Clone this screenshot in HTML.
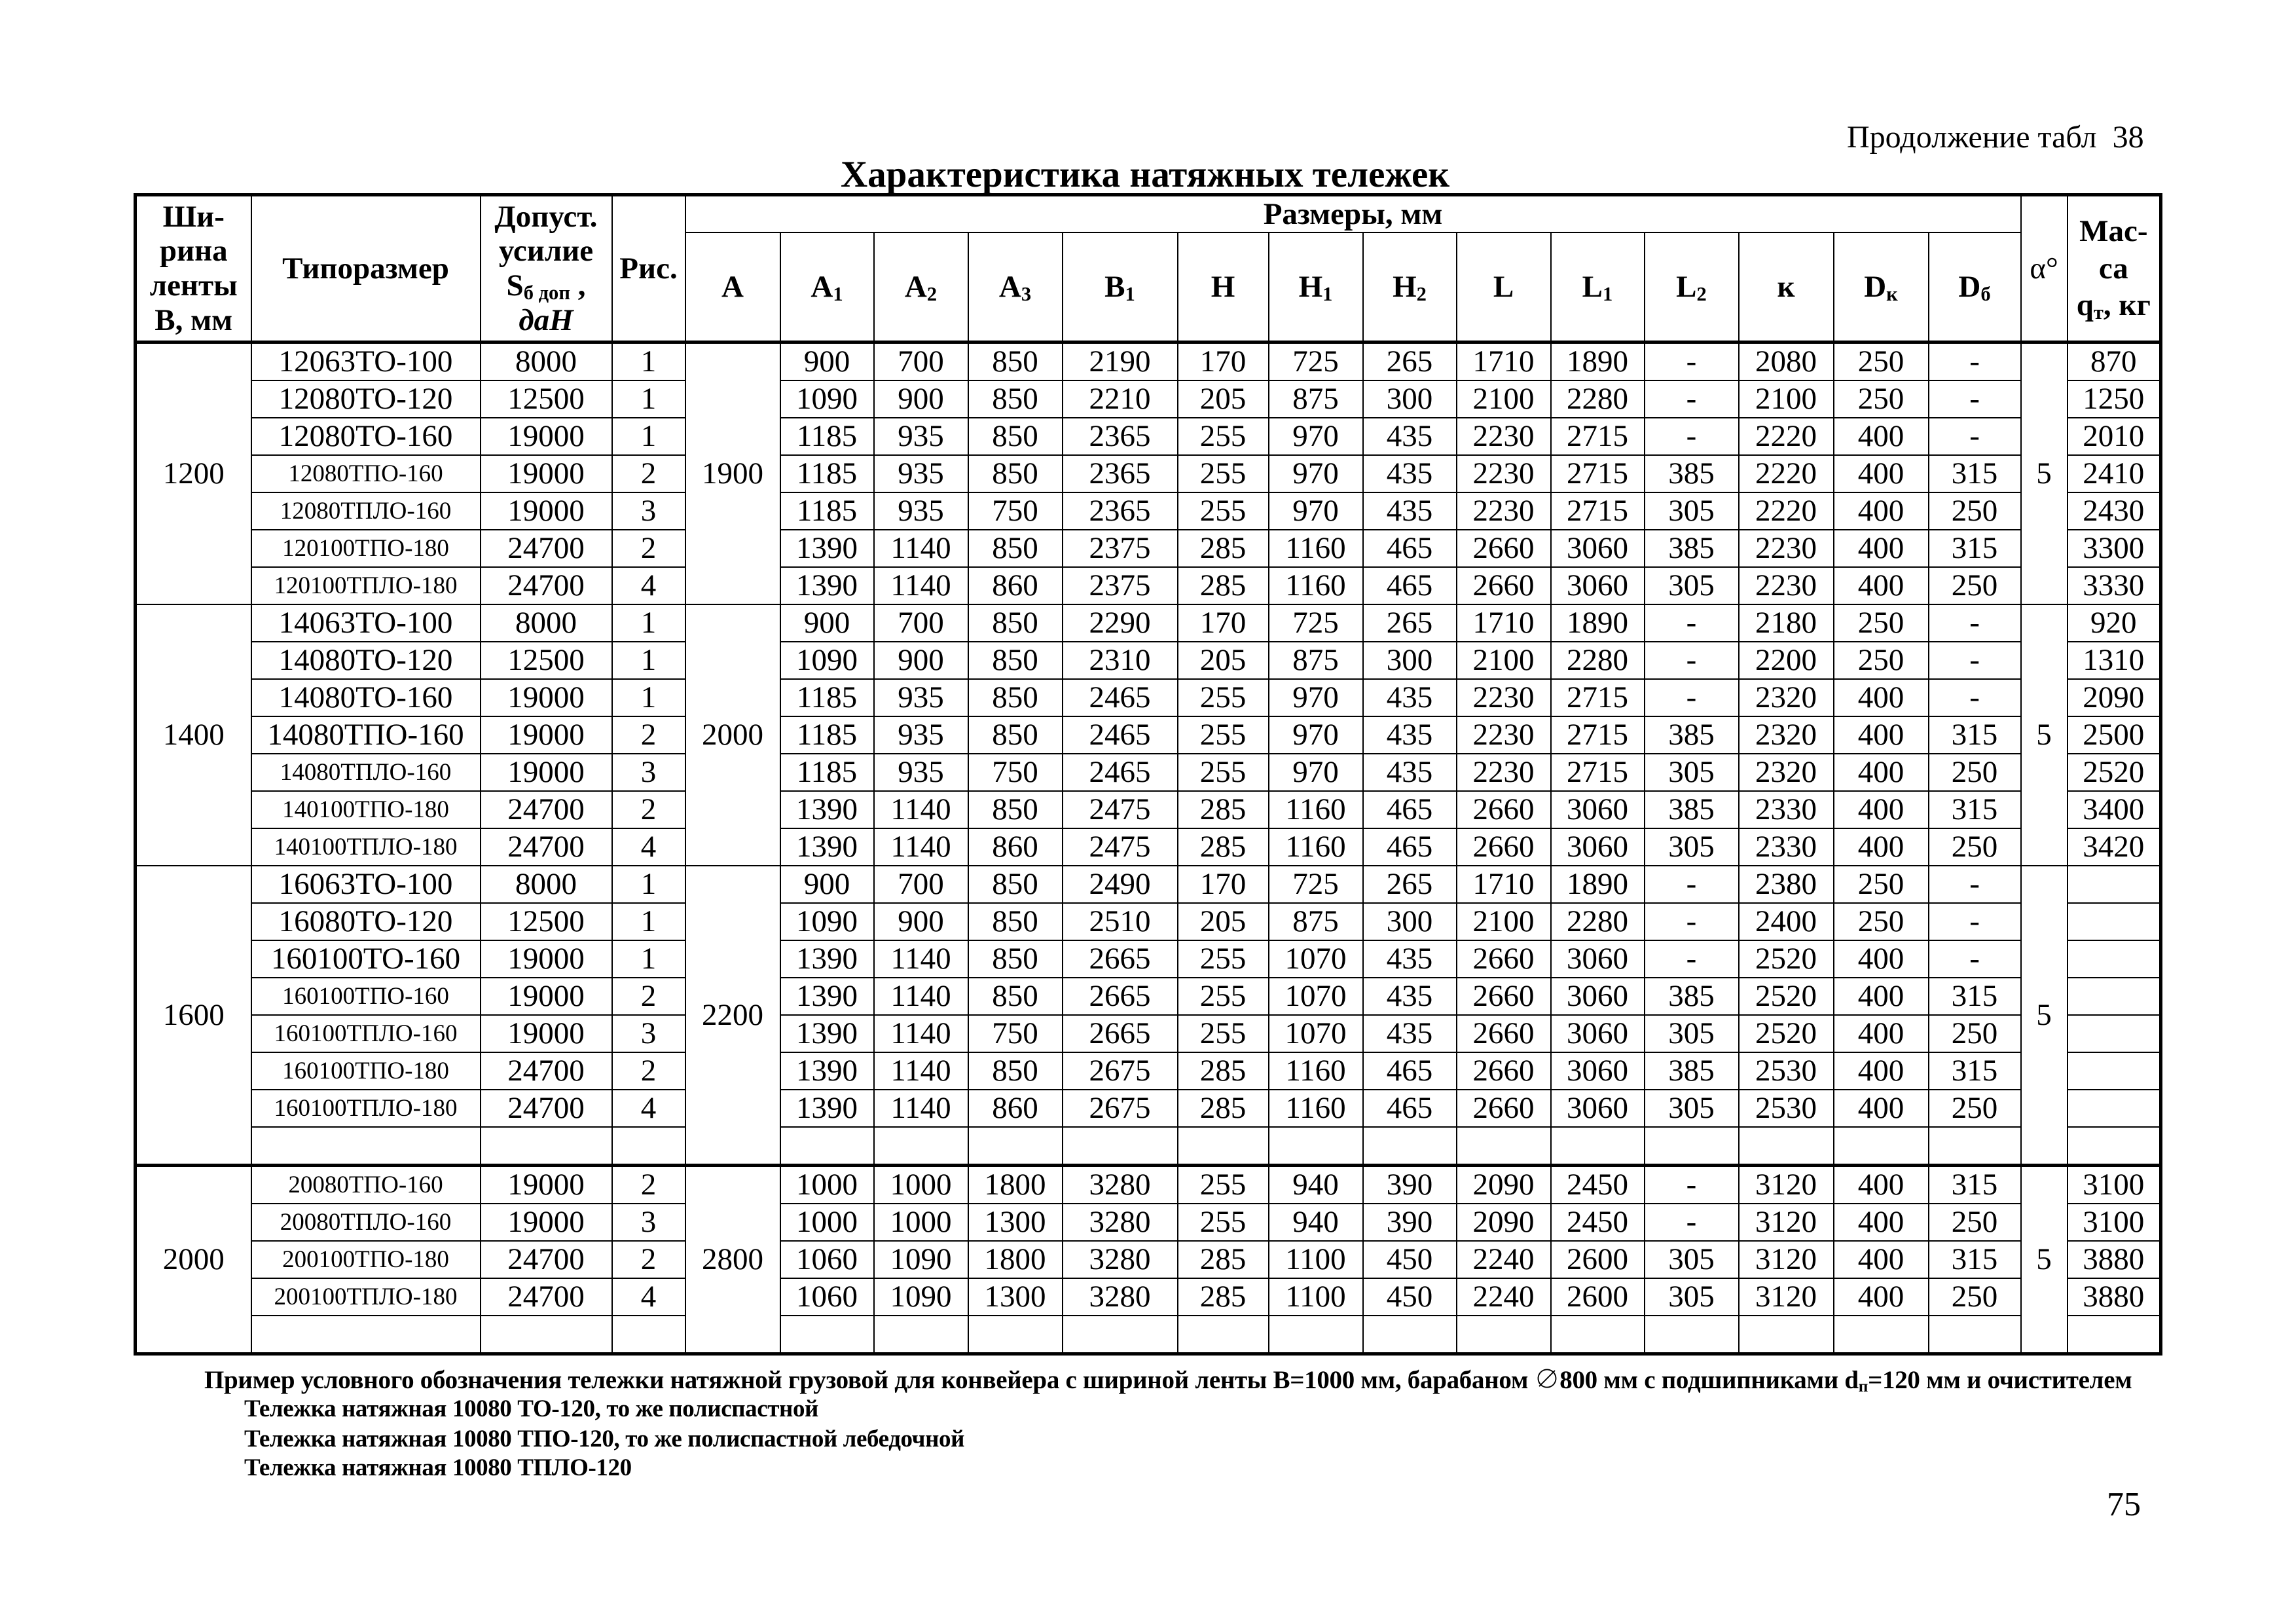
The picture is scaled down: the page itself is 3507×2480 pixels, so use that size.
<!DOCTYPE html>
<html><head><meta charset="utf-8"><style>
html,body{margin:0;padding:0;background:#fff;}
body{width:3507px;height:2480px;position:relative;overflow:hidden;font-family:"Liberation Serif","Noto Serif CJK SC",serif;color:#000;}
.abs{position:absolute;white-space:nowrap;}
table{position:absolute;left:204px;top:295px;border-collapse:collapse;table-layout:fixed;width:3094px;border:5px solid #000;}
td{border:2.5px solid #000;padding:0;text-align:center;vertical-align:middle;font-size:47px;line-height:1;overflow:hidden;white-space:nowrap;}
tr.d td{height:55px;}
tr.h1 td{height:54px;}
tr.h2 td{height:164px;}
.b{font-weight:bold;}
.sm{font-size:37px;}
.hb{border-bottom:5px solid #000;}
sub{font-size:0.65em;vertical-align:-0.2em;line-height:0;}
</style></head><body>
<div class="abs" style="left:2821px;top:182px;font-size:48px;">Продолжение табл&nbsp; 38</div>
<div class="abs b" style="left:1284px;top:234px;font-size:57px;">Характеристика натяжных тележек</div>
<table>
<colgroup>
<col style="width:177px"><col style="width:350px"><col style="width:201px"><col style="width:112px">
<col style="width:145px"><col style="width:143px"><col style="width:144px"><col style="width:144px"><col style="width:176px">
<col style="width:139px"><col style="width:144px"><col style="width:143px"><col style="width:144px"><col style="width:143px">
<col style="width:144px"><col style="width:145px"><col style="width:145px"><col style="width:141px">
<col style="width:71px"><col style="width:143px">
</colgroup>
<tr class="h1">
<td rowspan="2" class="b hb" style="line-height:1.12;">Ши-<br>рина<br>ленты<br>В, мм</td>
<td rowspan="2" class="b hb">Типоразмер</td>
<td rowspan="2" class="b hb" style="line-height:1.12;">Допуст.<br>усилие<br>S<sub>б доп</sub> ,<br><i>даН</i></td>
<td rowspan="2" class="b hb">Рис.</td>
<td colspan="14" class="b">Размеры, мм</td>
<td rowspan="2" class="hb">α°</td>
<td rowspan="2" class="b hb" style="line-height:1.2;">Мас-<br>са<br>q<sub>т</sub>, кг</td>
</tr>
<tr class="h2 b">
<td class="b hb">A</td><td class="b hb">A<sub>1</sub></td><td class="b hb">A<sub>2</sub></td><td class="b hb">A<sub>3</sub></td><td class="b hb">B<sub>1</sub></td><td class="b hb">H</td><td class="b hb">H<sub>1</sub></td><td class="b hb">H<sub>2</sub></td><td class="b hb">L</td><td class="b hb">L<sub>1</sub></td><td class="b hb">L<sub>2</sub></td><td class="b hb">к</td><td class="b hb">D<sub>к</sub></td><td class="b hb">D<sub>б</sub></td>
</tr>
<!-- 1200 -->
<tr class="d"><td rowspan="7">1200</td><td>12063ТО-100</td><td>8000</td><td>1</td><td rowspan="7">1900</td><td>900</td><td>700</td><td>850</td><td>2190</td><td>170</td><td>725</td><td>265</td><td>1710</td><td>1890</td><td>-</td><td>2080</td><td>250</td><td>-</td><td rowspan="7">5</td><td>870</td></tr>
<tr class="d"><td>12080ТО-120</td><td>12500</td><td>1</td><td>1090</td><td>900</td><td>850</td><td>2210</td><td>205</td><td>875</td><td>300</td><td>2100</td><td>2280</td><td>-</td><td>2100</td><td>250</td><td>-</td><td>1250</td></tr>
<tr class="d"><td>12080ТО-160</td><td>19000</td><td>1</td><td>1185</td><td>935</td><td>850</td><td>2365</td><td>255</td><td>970</td><td>435</td><td>2230</td><td>2715</td><td>-</td><td>2220</td><td>400</td><td>-</td><td>2010</td></tr>
<tr class="d"><td class="sm">12080ТПО-160</td><td>19000</td><td>2</td><td>1185</td><td>935</td><td>850</td><td>2365</td><td>255</td><td>970</td><td>435</td><td>2230</td><td>2715</td><td>385</td><td>2220</td><td>400</td><td>315</td><td>2410</td></tr>
<tr class="d"><td class="sm">12080ТПЛО-160</td><td>19000</td><td>3</td><td>1185</td><td>935</td><td>750</td><td>2365</td><td>255</td><td>970</td><td>435</td><td>2230</td><td>2715</td><td>305</td><td>2220</td><td>400</td><td>250</td><td>2430</td></tr>
<tr class="d"><td class="sm">120100ТПО-180</td><td>24700</td><td>2</td><td>1390</td><td>1140</td><td>850</td><td>2375</td><td>285</td><td>1160</td><td>465</td><td>2660</td><td>3060</td><td>385</td><td>2230</td><td>400</td><td>315</td><td>3300</td></tr>
<tr class="d"><td class="sm">120100ТПЛО-180</td><td>24700</td><td>4</td><td>1390</td><td>1140</td><td>860</td><td>2375</td><td>285</td><td>1160</td><td>465</td><td>2660</td><td>3060</td><td>305</td><td>2230</td><td>400</td><td>250</td><td>3330</td></tr>
<!-- 1400 -->
<tr class="d"><td rowspan="7">1400</td><td>14063ТО-100</td><td>8000</td><td>1</td><td rowspan="7">2000</td><td>900</td><td>700</td><td>850</td><td>2290</td><td>170</td><td>725</td><td>265</td><td>1710</td><td>1890</td><td>-</td><td>2180</td><td>250</td><td>-</td><td rowspan="7">5</td><td>920</td></tr>
<tr class="d"><td>14080ТО-120</td><td>12500</td><td>1</td><td>1090</td><td>900</td><td>850</td><td>2310</td><td>205</td><td>875</td><td>300</td><td>2100</td><td>2280</td><td>-</td><td>2200</td><td>250</td><td>-</td><td>1310</td></tr>
<tr class="d"><td>14080ТО-160</td><td>19000</td><td>1</td><td>1185</td><td>935</td><td>850</td><td>2465</td><td>255</td><td>970</td><td>435</td><td>2230</td><td>2715</td><td>-</td><td>2320</td><td>400</td><td>-</td><td>2090</td></tr>
<tr class="d"><td>14080ТПО-160</td><td>19000</td><td>2</td><td>1185</td><td>935</td><td>850</td><td>2465</td><td>255</td><td>970</td><td>435</td><td>2230</td><td>2715</td><td>385</td><td>2320</td><td>400</td><td>315</td><td>2500</td></tr>
<tr class="d"><td class="sm">14080ТПЛО-160</td><td>19000</td><td>3</td><td>1185</td><td>935</td><td>750</td><td>2465</td><td>255</td><td>970</td><td>435</td><td>2230</td><td>2715</td><td>305</td><td>2320</td><td>400</td><td>250</td><td>2520</td></tr>
<tr class="d"><td class="sm">140100ТПО-180</td><td>24700</td><td>2</td><td>1390</td><td>1140</td><td>850</td><td>2475</td><td>285</td><td>1160</td><td>465</td><td>2660</td><td>3060</td><td>385</td><td>2330</td><td>400</td><td>315</td><td>3400</td></tr>
<tr class="d"><td class="sm">140100ТПЛО-180</td><td>24700</td><td>4</td><td>1390</td><td>1140</td><td>860</td><td>2475</td><td>285</td><td>1160</td><td>465</td><td>2660</td><td>3060</td><td>305</td><td>2330</td><td>400</td><td>250</td><td>3420</td></tr>
<!-- 1600 -->
<tr class="d"><td rowspan="8">1600</td><td>16063ТО-100</td><td>8000</td><td>1</td><td rowspan="8">2200</td><td>900</td><td>700</td><td>850</td><td>2490</td><td>170</td><td>725</td><td>265</td><td>1710</td><td>1890</td><td>-</td><td>2380</td><td>250</td><td>-</td><td rowspan="8">5</td><td></td></tr>
<tr class="d"><td>16080ТО-120</td><td>12500</td><td>1</td><td>1090</td><td>900</td><td>850</td><td>2510</td><td>205</td><td>875</td><td>300</td><td>2100</td><td>2280</td><td>-</td><td>2400</td><td>250</td><td>-</td><td></td></tr>
<tr class="d"><td>160100ТО-160</td><td>19000</td><td>1</td><td>1390</td><td>1140</td><td>850</td><td>2665</td><td>255</td><td>1070</td><td>435</td><td>2660</td><td>3060</td><td>-</td><td>2520</td><td>400</td><td>-</td><td></td></tr>
<tr class="d"><td class="sm">160100ТПО-160</td><td>19000</td><td>2</td><td>1390</td><td>1140</td><td>850</td><td>2665</td><td>255</td><td>1070</td><td>435</td><td>2660</td><td>3060</td><td>385</td><td>2520</td><td>400</td><td>315</td><td></td></tr>
<tr class="d"><td class="sm">160100ТПЛО-160</td><td>19000</td><td>3</td><td>1390</td><td>1140</td><td>750</td><td>2665</td><td>255</td><td>1070</td><td>435</td><td>2660</td><td>3060</td><td>305</td><td>2520</td><td>400</td><td>250</td><td></td></tr>
<tr class="d"><td class="sm">160100ТПО-180</td><td>24700</td><td>2</td><td>1390</td><td>1140</td><td>850</td><td>2675</td><td>285</td><td>1160</td><td>465</td><td>2660</td><td>3060</td><td>385</td><td>2530</td><td>400</td><td>315</td><td></td></tr>
<tr class="d"><td class="sm">160100ТПЛО-180</td><td>24700</td><td>4</td><td>1390</td><td>1140</td><td>860</td><td>2675</td><td>285</td><td>1160</td><td>465</td><td>2660</td><td>3060</td><td>305</td><td>2530</td><td>400</td><td>250</td><td></td></tr>
<tr class="d"><td></td><td></td><td></td><td></td><td></td><td></td><td></td><td></td><td></td><td></td><td></td><td></td><td></td><td></td><td></td><td></td><td></td></tr>
<!-- 2000 -->
<tr class="d" style="border-top:5px solid #000;"><td rowspan="5">2000</td><td class="sm">20080ТПО-160</td><td>19000</td><td>2</td><td rowspan="5">2800</td><td>1000</td><td>1000</td><td>1800</td><td>3280</td><td>255</td><td>940</td><td>390</td><td>2090</td><td>2450</td><td>-</td><td>3120</td><td>400</td><td>315</td><td rowspan="5">5</td><td>3100</td></tr>
<tr class="d"><td class="sm">20080ТПЛО-160</td><td>19000</td><td>3</td><td>1000</td><td>1000</td><td>1300</td><td>3280</td><td>255</td><td>940</td><td>390</td><td>2090</td><td>2450</td><td>-</td><td>3120</td><td>400</td><td>250</td><td>3100</td></tr>
<tr class="d"><td class="sm">200100ТПО-180</td><td>24700</td><td>2</td><td>1060</td><td>1090</td><td>1800</td><td>3280</td><td>285</td><td>1100</td><td>450</td><td>2240</td><td>2600</td><td>305</td><td>3120</td><td>400</td><td>315</td><td>3880</td></tr>
<tr class="d"><td class="sm">200100ТПЛО-180</td><td>24700</td><td>4</td><td>1060</td><td>1090</td><td>1300</td><td>3280</td><td>285</td><td>1100</td><td>450</td><td>2240</td><td>2600</td><td>305</td><td>3120</td><td>400</td><td>250</td><td>3880</td></tr>
<tr class="d"><td></td><td></td><td></td><td></td><td></td><td></td><td></td><td></td><td></td><td></td><td></td><td></td><td></td><td></td><td></td><td></td><td></td></tr>
</table>
<div class="abs b" style="left:312px;top:2076px;font-size:39px;letter-spacing:-0.3px;">Пример условного обозначения тележки натяжной грузовой для конвейера с шириной ленты В=1000 мм, барабаном ∅800 мм с подшипниками d<sub>п</sub>=120 мм и очистителем</div>
<div class="abs b" style="left:373px;top:2130px;font-size:37px;letter-spacing:-0.4px;">Тележка натяжная 10080 ТО-120, то же полиспастной</div>
<div class="abs b" style="left:373px;top:2176px;font-size:37px;letter-spacing:-0.4px;">Тележка натяжная 10080 ТПО-120, то же полиспастной лебедочной</div>
<div class="abs b" style="left:373px;top:2220px;font-size:37px;letter-spacing:-0.4px;">Тележка натяжная 10080 ТПЛО-120</div>
<div class="abs" style="left:3218px;top:2268px;font-size:52px;">75</div>
</body></html>
